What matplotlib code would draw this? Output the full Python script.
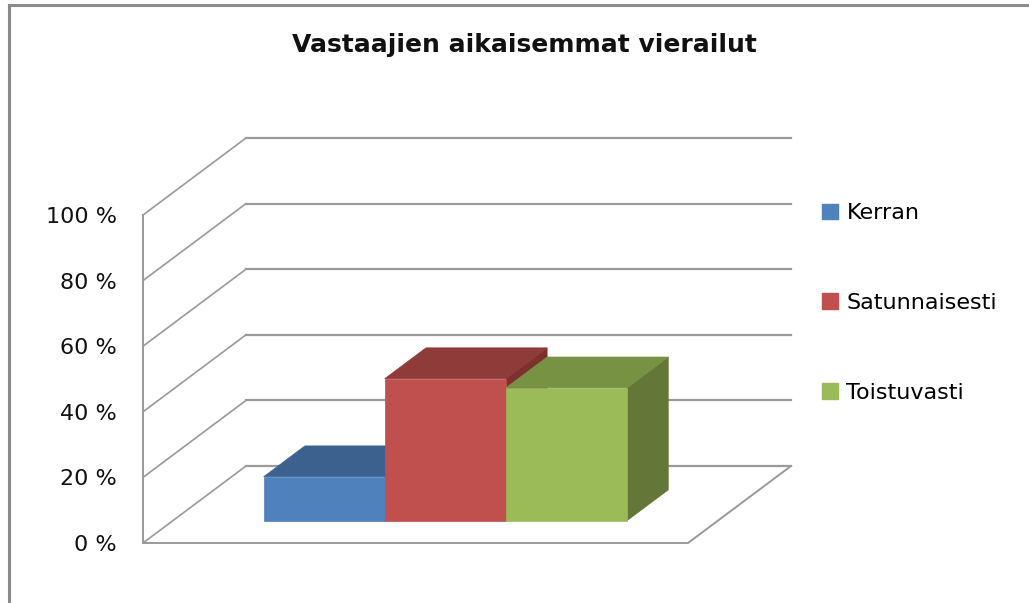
import numpy as np
import matplotlib
matplotlib.use("Agg")
import matplotlib.pyplot as plt
from matplotlib.patches import Polygon, Patch
from matplotlib.lines import Line2D

# data
categories = ["Kerran", "Satunnaisesti", "Toistuvasti"]
values = [13.4, 43.3, 40.5]
ticks = [0, 20, 40, 60, 80, 100]
title = "Vastaajien aikaisemmat vierailut"

front_colors = ["#4F81BD", "#C0504D", "#9BBB59"]
top_colors = ["#3D618F", "#8F3B39", "#789244"]
side_colors = ["#34557D", "#7E302E", "#657738"]

# oblique 3d look: depth 1 shifts x by DX (category units) and y by DY (percent)
DX = 103 / 545
DY = 77 / 3.28
D1, D2 = 0.29, 0.69      # bar depth range
gap = 1.5                # excel gap width 150 %
grid_col = "#9a9a9a"


def P(x, y, d):
    return (x + d * DX, y + d * DY)


fig = plt.figure(figsize=(10.29, 6.03), dpi=100)
ax = fig.add_axes([0, 0, 1, 1])
ax.set_xlim(-143 / 545, (1029 - 143) / 545)
ax.set_ylim(-60 / 3.28, (603 - 60) / 3.28)
ax.axis("off")

# chart frame (only top and left visible)
fig.add_artist(Line2D([9 / 1029, 9 / 1029], [0, 1 - 4.5 / 603], color="#8a8a8a", lw=2.2,
                      transform=fig.transFigure))
fig.add_artist(Line2D([9 / 1029, 1], [1 - 4.5 / 603, 1 - 4.5 / 603], color="#8a8a8a", lw=2.2,
                      transform=fig.transFigure))

# walls and gridlines
for t in ticks:
    a, b, c = P(0, t, 0), P(0, t, 1), P(1, t, 1)
    ax.plot([a[0], b[0]], [a[1], b[1]], color=grid_col, lw=1.2, zorder=1)
    ax.plot([b[0], c[0]], [b[1], c[1]], color=grid_col, lw=1.6, zorder=1)
    ax.text(-26 / 545, t - 0.6, "%d %%" % t, ha="right", va="center", fontsize=16, color="#111111")
ax.plot([0, 0], [0, 100], color=grid_col, lw=1.4, zorder=1)
# floor
f0, f1, f2 = P(0, 0, 0), P(1, 0, 0), P(1, 0, 1)
ax.plot([f0[0], f1[0], f2[0]], [f0[1], f1[1], f2[1]], color=grid_col, lw=1.4, zorder=1)

# bars
w = 1 / (len(values) + gap)
x0 = gap / 2 * w
for i, v in enumerate(values):
    a = x0 + i * w
    b = a + w
    side = [P(b, 0, D1), P(b, 0, D2), P(b, v, D2), P(b, v, D1)]
    top = [P(a, v, D1), P(b, v, D1), P(b, v, D2), P(a, v, D2)]
    front = [P(a, 0, D1), P(b, 0, D1), P(b, v, D1), P(a, v, D1)]
    ax.add_patch(Polygon(side, closed=True, fc=side_colors[i], ec=side_colors[i], lw=0.5, zorder=3))
    ax.add_patch(Polygon(top, closed=True, fc=top_colors[i], ec=top_colors[i], lw=0.5, zorder=3))
    ax.add_patch(Polygon(front, closed=True, fc=front_colors[i], ec=front_colors[i], lw=0.5, zorder=3))

# title
fig.text(524 / 1029, 1 - 45 / 603, title, ha="center", va="center", fontsize=18,
         fontweight="bold", color="#111111")

# legend
handles = [Patch(fc=c, ec=c) for c in front_colors]
fig.legend(handles, categories, loc="center left", bbox_to_anchor=(822 / 1029, 1 - 303 / 603),
           frameon=False, fontsize=16, handlelength=0.7, handleheight=0.7, handletextpad=0.4,
           labelspacing=3.13, borderpad=0, borderaxespad=0)

fig.savefig("out.png", dpi=100)
